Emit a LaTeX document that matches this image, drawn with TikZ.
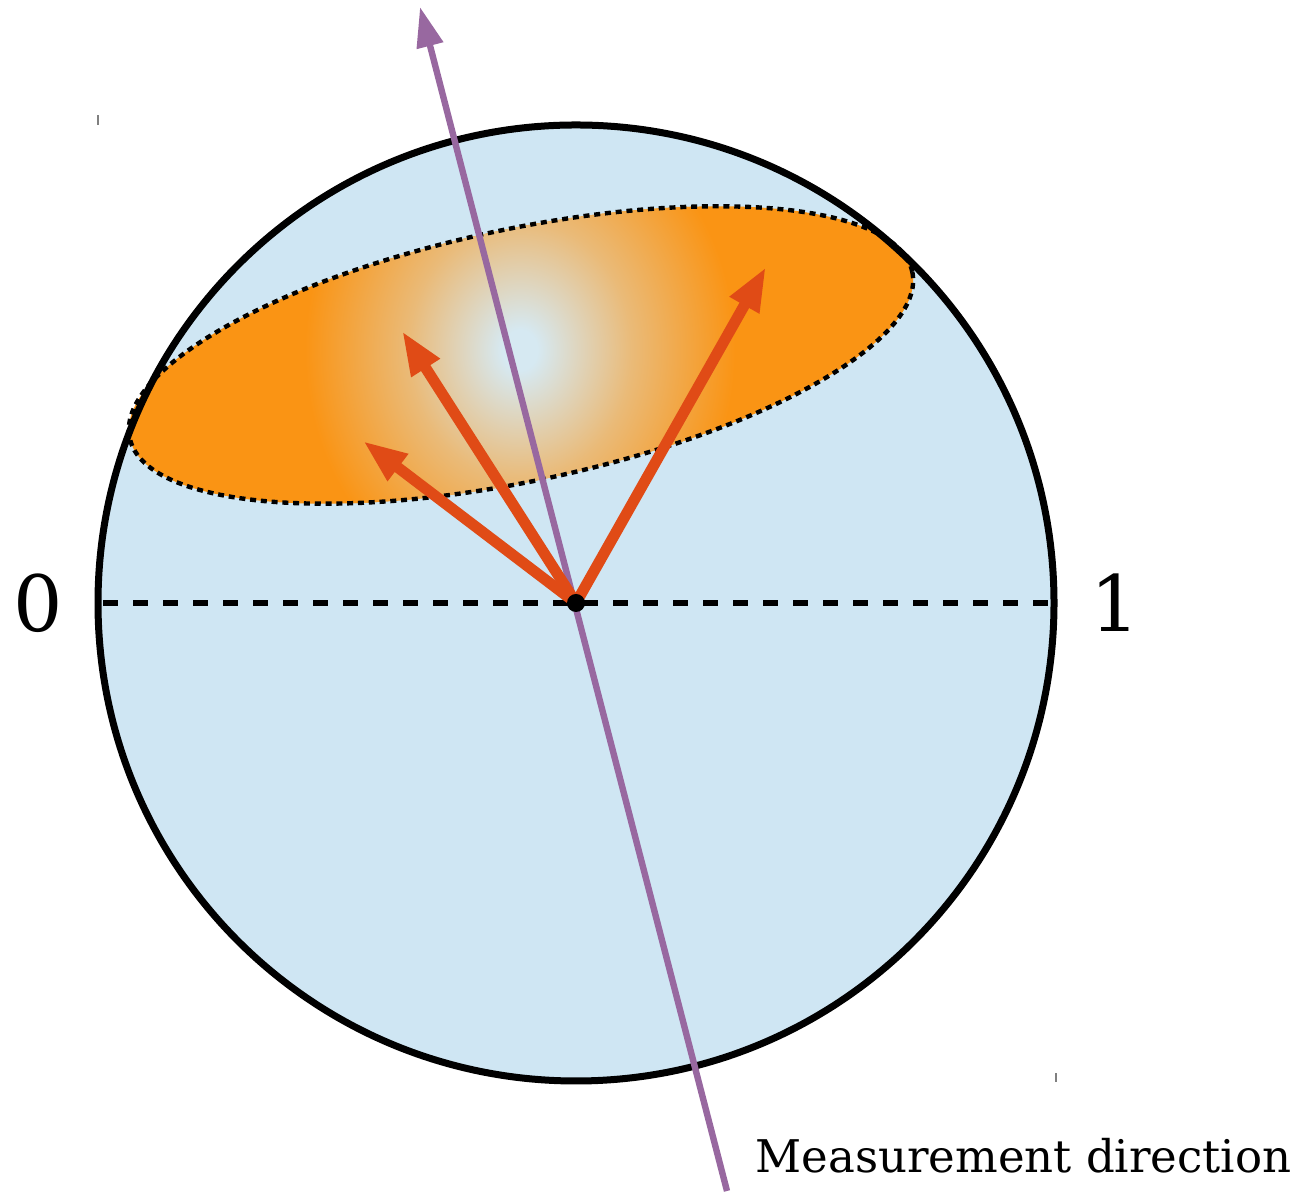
\documentclass[tikz,border=0pt]{standalone}
\usepackage{fontspec}
\setmainfont{DejaVu Serif}
\usetikzlibrary{arrows.meta}
\definecolor{spherefill}{RGB}{207,230,243}
\definecolor{capinner}{RGB}{214,233,242}
\definecolor{capouter}{RGB}{250,148,20}
\definecolor{arrowred}{RGB}{224,75,22}
\definecolor{measpurple}{RGB}{152,104,160}
\pgfdeclareradialshading{capshade}{\pgfpoint{0bp}{0bp}}{%
  color(0bp)=(capinner); color(2bp)=(capinner);
  color(13bp)=(capinner!45!capouter);
  color(25bp)=(capouter); color(50bp)=(capouter)}
\begin{document}
\begin{tikzpicture}[x=0.5bp,y=0.5bp,
  redarrow/.style={draw=arrowred, line width=5.5bp, -{Triangle[length=22bp,width=15.5bp]}},
  purplearrow/.style={draw=measpurple, line width=3.2bp, -{Triangle[length=20bp,width=13bp]}},
  axisline/.style={draw=black, line width=3.2bp, dash pattern=on 7.5bp off 7.5bp},
  capborder/.style={draw=black, line width=2.2bp, dash pattern=on 3bp off 2.4bp},
  tick/.style={draw=gray, line width=1bp},
  biglabel/.style={font=\fontsize{39}{39}\selectfont, inner sep=0pt},
  smalllabel/.style={font=\fontsize{22.6}{24}\selectfont, inner sep=0pt}
]
\useasboundingbox (0,0) rectangle (1303,1193);
\coordinate (O) at (576,590);
\coordinate (E) at (521,838);
\coordinate (G) at (520,843);
\coordinate (L) at (103,590);
\coordinate (R) at (1054,590);
\coordinate (R1) at (766,926);
\coordinate (R2) at (402,862);
\coordinate (R3) at (363,752);
\coordinate (Ptail) at (727,2);
\coordinate (Ptip) at (420,1186);
% sphere
\fill[spherefill] (O) circle (478);
% cap
\fill[capouter, rotate around={12:(E)}] (E) ellipse (400 and 126);
\begin{scope}
  \clip[rotate around={12:(E)}] (E) ellipse (400 and 126);
  \shade[shading=capshade] (G) ellipse (215 and 250);
\end{scope}
\path[capborder, rotate around={12:(E)}] (E) ellipse (400 and 126);
\draw[line width=3.5bp] (O) circle (478);
% axis
\path[axisline] (L) -- (R);
% measurement direction
\path[purplearrow] (Ptail) -- (Ptip);
% state vectors
\path[redarrow] (O) -- (R1);
\path[redarrow] (O) -- (R2);
\path[redarrow] (O) -- (R3);
\fill[black] (O) circle (9);
% labels
\node[biglabel] (zero) at (38.5,589.5) {0};
\node[biglabel] (one) at (1115.5,590) {1};
\node[smalllabel, anchor=base west] (meas) at (755,20) {Measurement direction};
% small marks
\path[tick] (97.5,1068) -- (97.5,1078);
\path[tick] (1056,111) -- (1056,120);
\end{tikzpicture}
\end{document}
